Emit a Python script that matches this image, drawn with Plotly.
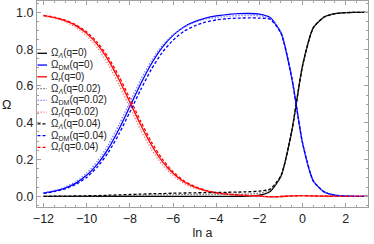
import plotly.graph_objects as go

# ---------------- data ----------------
ln_a = [-12.0, -11.5, -11.0, -10.5, -10.0, -9.5, -9.0, -8.5, -8.0, -7.5, -7.0, -6.5,
        -6.0, -5.5, -5.0, -4.5, -4.0, -3.5, -3.0, -2.5, -2.0, -1.5, -1.0, -0.5,
        0.0, 0.5, 1.0, 1.5, 2.0, 2.5, 3.0]

omega_L_q0 = [0, 0, 0, 0, 0, 0, 0, 0, 0, 0, 0, 0, 0, 0, 0, 0, 0, 0.0001, 0.0003, 0.0014,
              0.006, 0.0265, 0.109, 0.354, 0.711, 0.917, 0.975, 0.993, 0.999, 0.9998, 1.0]
omega_DM_q0 = [0.017, 0.028, 0.045, 0.072, 0.114, 0.175, 0.259, 0.366, 0.488, 0.611, 0.721,
               0.810, 0.875, 0.921, 0.950, 0.969, 0.981, 0.988, 0.993, 0.994, 0.991, 0.972,
               0.890, 0.645, 0.289, 0.083, 0.024, 0.006, 0.001, 0.0002, 0.0]
omega_r_q0 = [0.983, 0.972, 0.955, 0.928, 0.886, 0.825, 0.741, 0.634, 0.512, 0.389, 0.279,
              0.190, 0.125, 0.079, 0.050, 0.031, 0.019, 0.012, 0.007, 0.004, 0.001, -0.003,
              -0.001, 0.002, 0.004, 0.002, 0.001, 0.0, 0.0, 0.0, 0.0]

omega_L_q002 = [0, 0.0003, 0.0005, 0.001, 0.0015, 0.002, 0.003, 0.004, 0.005, 0.006, 0.007,
                0.008, 0.009, 0.009, 0.010, 0.010, 0.011, 0.011, 0.012, 0.013, 0.017, 0.033,
                0.111, 0.355, 0.711, 0.917, 0.975, 0.993, 0.999, 0.9998, 1.0]
omega_DM_q002 = [0.019, 0.031, 0.050, 0.080, 0.126, 0.191, 0.280, 0.390, 0.512, 0.633, 0.738,
                 0.820, 0.879, 0.920, 0.946, 0.963, 0.972, 0.979, 0.982, 0.983, 0.981, 0.967,
                 0.889, 0.644, 0.289, 0.083, 0.024, 0.006, 0.001, 0.0002, 0.0]
omega_r_q002 = [0.981, 0.969, 0.949, 0.919, 0.873, 0.807, 0.717, 0.606, 0.483, 0.361, 0.255,
                0.172, 0.112, 0.071, 0.044, 0.027, 0.017, 0.010, 0.006, 0.004, 0.001, -0.003,
                -0.001, 0.002, 0.004, 0.002, 0.001, 0.0, 0.0, 0.0, 0.0]

omega_L_q004 = [0, 0.0005, 0.001, 0.002, 0.003, 0.004, 0.006, 0.008, 0.010, 0.012, 0.014,
                0.015, 0.017, 0.018, 0.019, 0.020, 0.021, 0.022, 0.023, 0.025, 0.028, 0.040,
                0.113, 0.356, 0.711, 0.917, 0.975, 0.993, 0.999, 0.9998, 1.0]
omega_DM_q004 = [0.016, 0.026, 0.041, 0.065, 0.103, 0.160, 0.238, 0.340, 0.458, 0.579, 0.691,
                 0.782, 0.849, 0.897, 0.927, 0.947, 0.959, 0.966, 0.969, 0.970, 0.969, 0.962,
                 0.887, 0.642, 0.289, 0.083, 0.024, 0.006, 0.001, 0.0002, 0.0]
omega_r_q004 = [0.984, 0.974, 0.958, 0.933, 0.894, 0.836, 0.756, 0.652, 0.532, 0.409, 0.295,
                0.203, 0.134, 0.085, 0.054, 0.033, 0.020, 0.0125, 0.0076, 0.0046, 0.002, -0.002,
                -0.001, 0.002, 0.004, 0.002, 0.001, 0.0, 0.0, 0.0, 0.0]

labels = [
    "Ω<sub><i>Λ</i></sub>(q=0)", "Ω<sub>DM</sub>(q=0)", "Ω<sub><i>r</i></sub>(q=0)",
    "Ω<sub><i>Λ</i></sub>(q=0.02)", "Ω<sub>DM</sub>(q=0.02)", "Ω<sub><i>r</i></sub>(q=0.02)",
    "Ω<sub><i>Λ</i></sub>(q=0.04)", "Ω<sub>DM</sub>(q=0.04)", "Ω<sub><i>r</i></sub>(q=0.04)",
]
values = [omega_L_q0, omega_DM_q0, omega_r_q0,
          omega_L_q002, omega_DM_q002, omega_r_q002,
          omega_L_q004, omega_DM_q004, omega_r_q004]
colors = ["#000000", "#0000ff", "#ff0000",
          "#606060", "#7070ff", "#ff7070",
          "#000000", "#0000ff", "#ff0000"]
dashes = ["solid", "solid", "solid",
          "1.3px,1.7px", "1.3px,1.7px", "1.3px,1.7px",
          "3px,2px", "3px,2px", "3px,2px"]

# ---------------- figure ----------------
W, H = 374, 244
ml, mr, mt, mb = 37, 6, 1, 37
pw, ph = W - ml - mr, H - mt - mb

fig = go.Figure()
for name, y, c, d in zip(labels, values, colors, dashes):
    fig.add_trace(go.Scatter(x=ln_a, y=y, mode="lines", name=name,
                             line=dict(color=c, width=1.3, dash=d, shape="spline", smoothing=0.6),
                             showlegend=False, hoverinfo="skip"))

# manual legend (Mathematica-style compact legend inside the frame)
leg_top, leg_step = 53.3, 11.75
for i, (name, c, d) in enumerate(zip(labels, colors, dashes)):
    py = leg_top + i * leg_step
    yp = (H - mb - py) / ph
    fig.add_shape(type="line", xref="paper", yref="paper",
                  x0=(37.5 - ml) / pw, x1=(47 - ml) / pw, y0=yp, y1=yp,
                  line=dict(color=c, width=1.3, dash=d))
    fig.add_annotation(xref="paper", yref="paper", x=(48.5 - ml) / pw, y=yp,
                       text=name, showarrow=False, xanchor="left", yanchor="middle",
                       font=dict(size=10, color="#222"))

fig.add_annotation(xref="paper", yref="paper", x=(6 - ml) / pw, y=(H - mb - 105) / ph,
                   text="Ω", showarrow=False, xanchor="center", yanchor="middle",
                   font=dict(size=12.5, color="#222"))

axis_common = dict(showgrid=False, zeroline=False, showline=True, linecolor="#a0a0a0",
                   linewidth=1, mirror="allticks", ticks="inside", ticklen=4,
                   tickcolor="#a0a0a0", tickfont=dict(size=12.5, color="#222"))

fig.update_xaxes(range=[-12.3, 3.03], tick0=-12, dtick=2,
                 minor=dict(dtick=0.5, ticks="inside", ticklen=2, tickcolor="#a0a0a0"),
                 title=dict(text="ln a", font=dict(size=12.5, color="#222"), standoff=3),
                 tickformat="d", **axis_common)
fig.update_yaxes(range=[-0.058, 1.062], tick0=0, dtick=0.2, tickformat=".1f",
                 minor=dict(dtick=0.05, ticks="inside", ticklen=2, tickcolor="#a0a0a0"),
                 **axis_common)

fig.update_layout(width=W, height=H, margin=dict(l=ml, r=mr, t=mt, b=mb),
                  paper_bgcolor="white", plot_bgcolor="white",
                  font=dict(family="Liberation Sans, Arial, sans-serif", color="#222"))

fig.write_html("out.html", config={"displayModeBar": False},
               post_script="document.body.style.margin='0px';")
